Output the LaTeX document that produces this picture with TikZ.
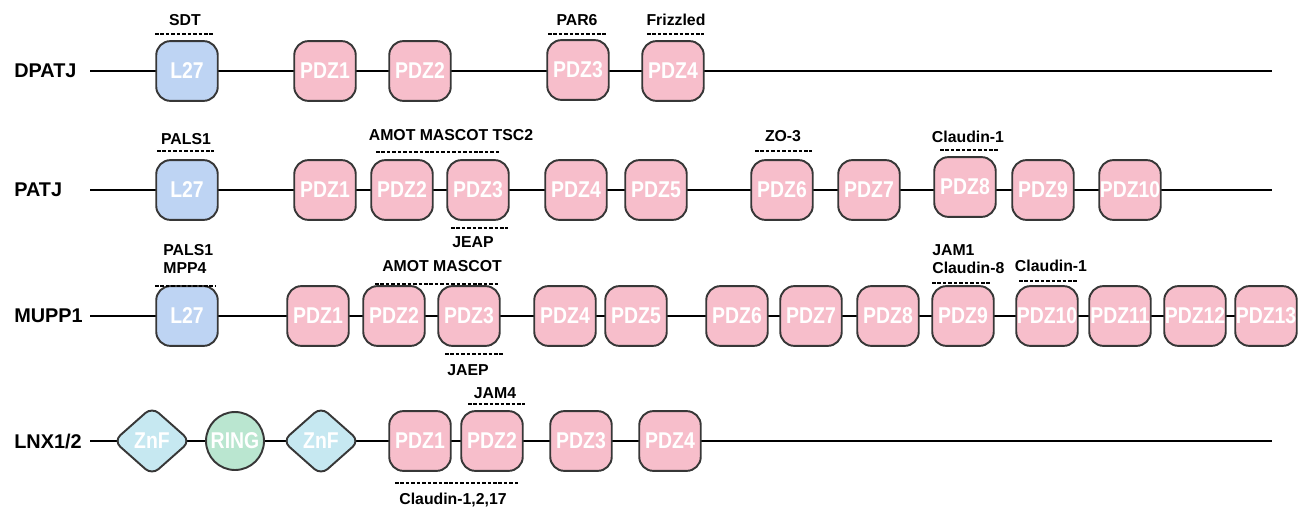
\documentclass[tikz,border=0pt]{standalone}
\usepackage{fontspec}
\setmainfont{Liberation Sans}
\newfontfamily\domainfont[FakeStretch=0.85]{Liberation Sans}
\usepackage{tikz}
\usetikzlibrary{shapes.geometric}
\definecolor{pdzpink}{RGB}{247,190,203}
\definecolor{l27blue}{RGB}{190,212,243}
\definecolor{znfcyan}{RGB}{198,232,241}
\definecolor{ringgreen}{RGB}{186,230,208}
\definecolor{edgegray}{RGB}{55,55,55}
\tikzset{
  pdzbox/.style={draw=edgegray, line width=1.1pt, rounded corners=8pt,
    fill=pdzpink, text=white, inner sep=0pt, minimum width=35pt,
    minimum height=34pt, font=\domainfont\bfseries\fontsize{13}{14}\selectfont},
  l27box/.style={pdzbox, fill=l27blue},
  znfbox/.style={diamond, draw=edgegray, line width=1.1pt, rounded corners=5pt,
    fill=znfcyan, text=white, inner sep=0pt, minimum width=44pt,
    minimum height=39pt, font=\domainfont\bfseries\fontsize{13}{14}\selectfont},
  ringbox/.style={circle, draw=edgegray, line width=1.1pt, fill=ringgreen,
    text=white, inner sep=0pt, minimum size=33pt,
    font=\domainfont\bfseries\fontsize{13}{14}\selectfont},
  protname/.style={anchor=west, inner sep=0pt, font=\bfseries\fontsize{11.3}{13}\selectfont},
  partner/.style={inner sep=0pt, align=left, font=\bfseries\fontsize{9}{10.2}\selectfont},
  bindline/.style={dashed, dash pattern=on 2pt off 1.1pt, line width=0.6pt},
  backbone/.style={line width=1.1pt}
}

\begin{document}
\begin{tikzpicture}[x=0.02cm, y=-0.02cm]
\useasboundingbox (0,0) rectangle (1304,510);

% DPATJ
\coordinate (dstart) at (90,71);
\coordinate (dend) at (1272,71);
\draw[backbone] (dstart) -- (dend);
\node[protname] (dpatj) at (14,71) {DPATJ};
\node[l27box] (dl27) at (187,71) {L27};
\node[pdzbox] (dpdz1) at (325,71) {PDZ1};
\node[pdzbox] (dpdz2) at (420,71) {PDZ2};
\node[pdzbox] (dpdz3) at (578,70) {PDZ3};
\node[pdzbox] (dpdz4) at (673,71) {PDZ4};
\node[partner] (sdt) at (185,20) {SDT};
\draw[bindline] (155,34) -- (213,34);
\node[partner] (par6) at (577,20) {PAR6};
\draw[bindline] (548,34) -- (606,34);
\node[partner] (frizzled) at (676,20) {Frizzled};
\draw[bindline] (647,34) -- (704,34);

% PATJ
\coordinate (pstart) at (90,190);
\coordinate (pend) at (1272,190);
\draw[backbone] (pstart) -- (pend);
\node[protname] (patj) at (14,190) {PATJ};
\node[l27box] (pl27) at (187,190) {L27};
\node[pdzbox] (ppdz1) at (325,190) {PDZ1};
\node[pdzbox] (ppdz2) at (402,190) {PDZ2};
\node[pdzbox] (ppdz3) at (478,190) {PDZ3};
\node[pdzbox] (ppdz4) at (576,190) {PDZ4};
\node[pdzbox] (ppdz5) at (656,190) {PDZ5};
\node[pdzbox] (ppdz6) at (782,190) {PDZ6};
\node[pdzbox] (ppdz7) at (869,190) {PDZ7};
\node[pdzbox] (ppdz8) at (965,187) {PDZ8};
\node[pdzbox] (ppdz9) at (1043,190) {PDZ9};
\node[pdzbox] (ppdz10) at (1130,190) {PDZ10};
\node[partner] (pals1) at (186,139) {PALS1};
\draw[bindline] (157,151) -- (214,151);
\node[partner] (amotmascottsc2) at (451,135) {AMOT MASCOT TSC2};
\draw[bindline] (376,152) -- (500,152);
\draw[bindline] (451,228) -- (508,228);
\node[partner] (jeap) at (473,242) {JEAP};
\node[partner] (zo3) at (783,136) {ZO-3};
\draw[bindline] (755,151) -- (812,151);
\node[partner] (claudin1) at (968,137) {Claudin-1};
\draw[bindline] (940,150) -- (998,150);

% MUPP1
\coordinate (mstart) at (90,316);
\coordinate (mend) at (1266,316);
\draw[backbone] (mstart) -- (mend);
\node[protname] (mupp1) at (14,316) {MUPP1};
\node[l27box] (ml27) at (187,316) {L27};
\node[pdzbox] (mpdz1) at (318,316) {PDZ1};
\node[pdzbox] (mpdz2) at (394,316) {PDZ2};
\node[pdzbox] (mpdz3) at (469,316) {PDZ3};
\node[pdzbox] (mpdz4) at (565,316) {PDZ4};
\node[pdzbox] (mpdz5) at (636,316) {PDZ5};
\node[pdzbox] (mpdz6) at (737,316) {PDZ6};
\node[pdzbox] (mpdz7) at (811,316) {PDZ7};
\node[pdzbox] (mpdz8) at (888,316) {PDZ8};
\node[pdzbox] (mpdz9) at (963,316) {PDZ9};
\node[pdzbox] (mpdz10) at (1047,316) {PDZ10};
\node[pdzbox] (mpdz11) at (1120,316) {PDZ11};
\node[pdzbox] (mpdz12) at (1195,316) {PDZ12};
\node[pdzbox] (mpdz13) at (1266,316) {PDZ13};
\node[partner, anchor=west] (pals1mpp4) at (163,259) {PALS1\\MPP4};
\draw[bindline] (155,286) -- (215,286);
\node[partner] (amotmascot) at (442,266) {AMOT MASCOT};
\draw[bindline] (375,284) -- (500,284);
\draw[bindline] (445,354) -- (503,354);
\node[partner] (jaep) at (468,370) {JAEP};
\node[partner, anchor=west] (jam1claudin8) at (932,259) {JAM1\\Claudin-8};
\draw[bindline] (932,283) -- (990,283);
\node[partner] (mclaudin1) at (1051,266) {Claudin-1};
\draw[bindline] (1019,281) -- (1077,281);

% LNX1/2
\coordinate (lstart) at (90,441);
\coordinate (lend) at (1272,441);
\draw[backbone] (lstart) -- (lend);
\node[protname] (lnx) at (14,441) {LNX1/2};
\node[znfbox] (lznf1) at (152,441) {ZnF};
\node[ringbox] (lring) at (235,441) {RING};
\node[znfbox] (lznf2) at (321,441) {ZnF};
\node[pdzbox] (lpdz1) at (420,441) {PDZ1};
\node[pdzbox] (lpdz2) at (492,441) {PDZ2};
\node[pdzbox] (lpdz3) at (581,441) {PDZ3};
\node[pdzbox] (lpdz4) at (670,441) {PDZ4};
\node[partner] (jam4) at (495,393) {JAM4};
\draw[bindline] (468,404) -- (525,404);
\draw[bindline] (395,483) -- (518,483);
\node[partner] (claudin1217) at (453,500) {Claudin-1,2,17};
\end{tikzpicture}
\end{document}
